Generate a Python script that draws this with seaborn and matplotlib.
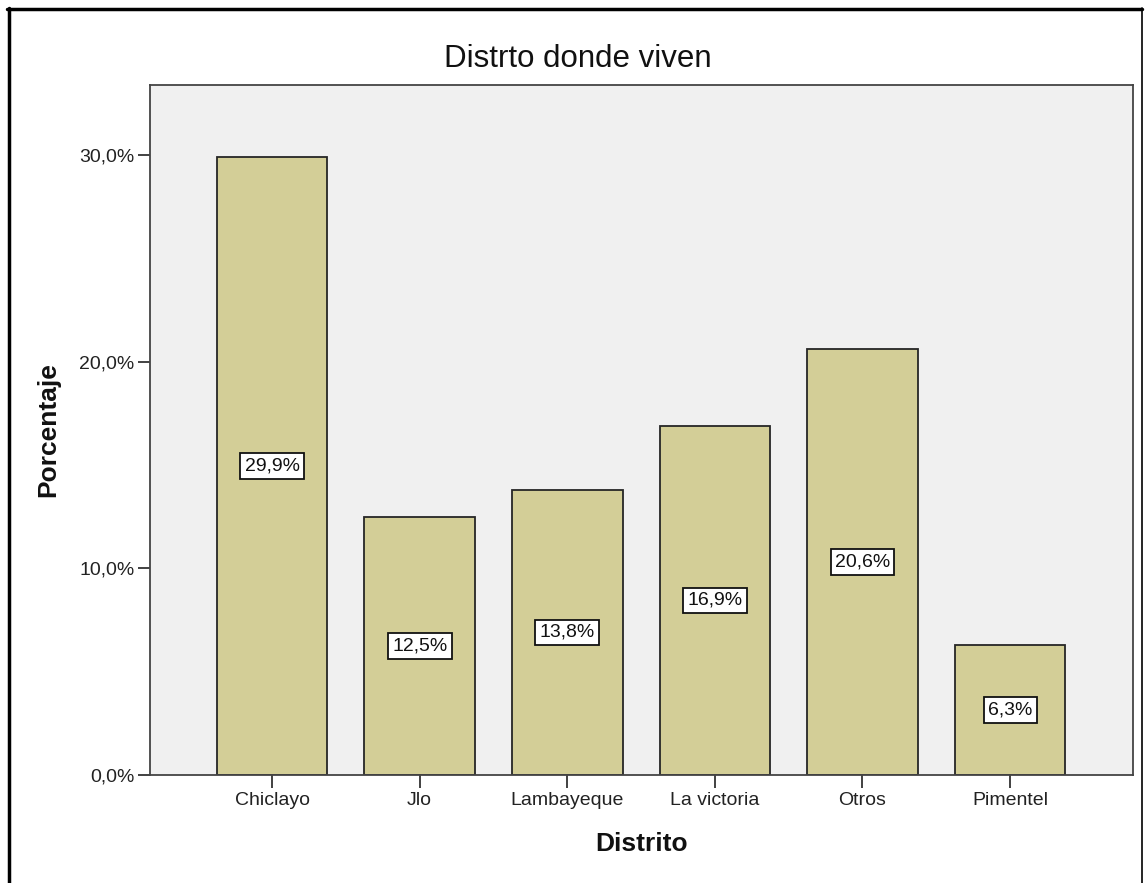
import numpy as np
import pandas as pd
import seaborn as sns
import matplotlib
matplotlib.use("Agg")
import matplotlib.pyplot as plt
from matplotlib.lines import Line2D

# datos
distritos = ["Chiclayo", "Jlo", "Lambayeque", "La victoria", "Otros", "Pimentel"]
porcentajes = [29.9, 12.5, 13.8, 16.9, 20.6, 6.3]
yticks = [0, 10, 20, 30]

df = pd.DataFrame({"Distrito": distritos, "Porcentaje": porcentajes})

sns.set_style("white")
plt.rcParams["font.family"] = ["Liberation Sans", "DejaVu Sans"]

W, H = 1145, 883
fig = plt.figure(figsize=(W / 100, H / 100), dpi=100)
ax = fig.add_axes([150 / W, 1 - 775 / H, (1133 - 150) / W, (775 - 85) / H])
ax.set_facecolor("#f0f0f0")

sns.barplot(data=df, x="Distrito", y="Porcentaje", color="#d3ce97", saturation=1,
            edgecolor="#262626", linewidth=1.3, width=0.75, ax=ax)

# etiquetas dentro de las barras
for i, v in enumerate(porcentajes):
    ax.text(i, v / 2, f"{v:.1f}%".replace(".", ","), ha="center", va="center",
            fontsize=14, color="#111111",
            bbox=dict(boxstyle="square,pad=0.22", fc="white", ec="#111111", lw=1.3))

ax.set_xlim(-0.827, 5.833)
ax.set_ylim(0, 33.4)
ax.set_yticks(yticks)
ax.set_yticklabels([f"{t:.1f}%".replace(".", ",") for t in yticks])

ax.tick_params(axis="both", length=9, width=1.3, color="#333333",
               labelsize=14, labelcolor="#222222")
ax.tick_params(axis="y", left=True, pad=2)
ax.tick_params(axis="x", bottom=True, pad=3)

for s in ax.spines.values():
    s.set_visible(True)
    s.set_color("#444444")
    s.set_linewidth(1.3)

ax.set_title("Distrto donde viven", fontsize=22.5, pad=13, x=0.435, color="#111111")
ax.set_xlabel("Distrito", fontsize=19, fontweight="bold", labelpad=17, color="#111111")
ax.set_ylabel("Porcentaje", fontsize=19, fontweight="bold", labelpad=14, color="#111111")

# marco exterior
fig.add_artist(Line2D([8.5 / W, 8.5 / W], [1 - 8 / H, -0.01], color="black", lw=2.5, transform=fig.transFigure))
fig.add_artist(Line2D([7 / W, 1142 / W], [1 - 8.5 / H, 1 - 8.5 / H], color="black", lw=2.5, transform=fig.transFigure))
fig.add_artist(Line2D([1142 / W, 1142 / W], [1 - 8 / H, -0.01], color="black", lw=1.2, transform=fig.transFigure))

fig.savefig("out.png", dpi=100)
